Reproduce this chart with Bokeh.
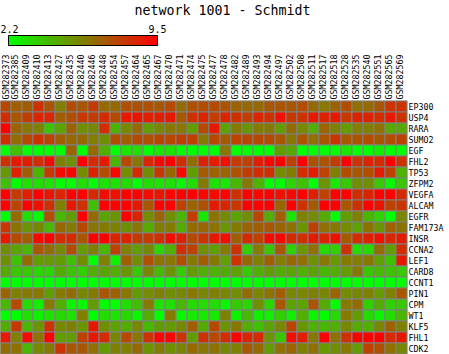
from bokeh.plotting import figure
from bokeh.models import (ColumnDataSource, LinearColorMapper, ColorBar, Range1d,
                          FixedTicker)
from bokeh.embed import file_html
from bokeh.resources import INLINE

TITLE = "network 1001 - Schmidt"
VMIN = 2.2
VMAX = 9.5

samples = ["GSM282373","GSM282385","GSM282409","GSM282410","GSM282413","GSM282427","GSM282435",
           "GSM282440","GSM282446","GSM282448","GSM282454","GSM282457","GSM282464","GSM282465",
           "GSM282467","GSM282470","GSM282471","GSM282474","GSM282475","GSM282477","GSM282478",
           "GSM282482","GSM282489","GSM282493","GSM282494","GSM282497","GSM282502","GSM282508",
           "GSM282511","GSM282517","GSM282518","GSM282528","GSM282535","GSM282540","GSM282551",
           "GSM282565","GSM282569"]
genes = ["EP300","USP4","RARA","SUMO2","EGF","FHL2","TP53","ZFPM2","VEGFA","ALCAM","EGFR","FAM173A",
         "INSR","CCNA2","LEF1","CARD8","CCNT1","PIN1","CPM","WT1","KLF5","FHL1","CDK2"]

EP300 = [7.4,6.8,6.9,8.1,7.1,5.9,7.3,7.0,7.8,6.5,6.5,7.2,7.2,7.2,7.0,7.4,6.4,7.2,7.3,7.4,7.1,6.7,6.5,6.5,7.0,7.1,7.0,7.3,6.5,6.1,6.7,7.3,6.3,6.5,7.0,8.0,8.0]
USP4 = [8.2,7.0,7.8,8.4,8.4,6.8,7.3,7.9,7.8,8.3,7.4,8.8,8.9,8.6,8.6,8.8,7.0,8.1,8.4,7.7,8.4,8.1,7.7,8.4,8.1,9.0,7.9,8.1,8.8,8.5,8.8,7.9,8.5,8.5,8.2,8.8,8.1]
RARA = [9.5,6.6,6.1,5.8,3.9,4.8,6.7,5.4,5.6,8.2,4.4,5.6,6.5,5.1,5.6,6.1,6.1,5.0,7.4,8.8,4.8,6.0,5.2,6.0,6.0,5.1,6.4,5.6,4.5,6.6,5.8,5.1,5.8,5.8,6.3,4.7,4.7]
SUMO2 = [8.2,6.4,7.5,8.1,7.6,6.8,6.5,6.5,5.9,5.4,7.3,6.8,7.4,7.2,7.5,7.5,7.7,7.7,6.1,7.4,6.9,7.6,7.5,7.4,7.4,7.0,6.1,7.1,6.3,7.1,8.0,7.0,7.1,7.3,7.0,7.3,7.6]
EGF = [2.2,4.0,2.2,2.2,2.2,2.2,6.6,2.2,6.4,4.5,2.2,3.0,3.2,2.2,2.9,3.0,2.3,2.2,2.2,2.2,6.1,2.2,2.2,2.2,2.2,5.0,4.7,2.2,2.2,2.2,2.2,3.0,2.2,2.2,2.7,2.2,2.2]
FHL2 = [8.1,8.8,8.7,8.2,9.1,5.8,5.4,9.5,8.3,8.8,4.3,7.4,6.1,8.4,9.2,9.5,8.2,6.4,8.5,8.7,9.0,7.8,7.6,8.6,9.3,9.5,7.7,9.5,7.1,7.1,7.8,9.5,8.0,8.5,8.3,9.4,8.0]
TP53 = [5.1,8.5,6.8,4.3,7.9,9.2,9.3,5.5,8.5,7.3,9.3,5.5,8.2,5.4,7.9,6.5,9.2,5.0,6.9,6.7,6.6,7.2,7.8,8.2,8.1,5.5,6.0,8.2,8.7,7.6,5.8,7.3,7.0,7.3,8.7,7.6,4.4]
ZFPM2 = [4.0,2.2,3.1,3.2,3.0,2.3,2.2,3.2,2.2,3.0,3.0,3.3,2.2,3.2,3.0,3.1,2.5,3.2,6.0,3.0,2.9,4.3,6.0,4.4,2.2,2.2,3.4,4.0,2.2,5.3,2.8,3.8,5.4,5.4,3.8,2.4,3.8]
VEGFA = [9.5,7.8,8.6,9.5,8.9,8.4,9.5,9.5,8.3,9.1,9.0,9.5,9.5,9.1,8.9,9.4,9.4,9.5,9.3,9.2,9.4,8.1,9.5,9.3,9.5,9.0,9.2,9.5,8.6,7.6,9.5,9.4,8.2,8.5,9.5,9.5,8.3]
ALCAM = [9.5,7.5,9.5,9.0,8.1,5.8,8.8,8.1,4.0,9.5,9.5,9.5,8.8,7.0,9.5,9.5,7.6,6.6,7.2,8.7,8.4,7.9,9.5,9.5,9.5,6.6,9.5,8.1,6.9,9.5,9.5,7.0,8.1,9.5,8.9,7.6,8.0]
EGFR = [2.2,6.4,3.1,2.2,7.2,4.3,5.0,9.5,6.5,4.8,5.3,9.5,8.5,5.5,6.6,5.4,4.3,7.7,2.9,6.2,5.5,4.8,5.4,7.5,4.5,6.8,3.0,5.8,5.5,4.6,2.2,5.0,5.8,4.3,3.4,2.2,5.6]
FAM173A = [7.9,6.2,5.3,5.6,4.2,6.5,6.0,7.4,6.1,6.0,5.8,5.4,6.1,4.6,5.9,6.0,4.6,6.4,6.6,6.2,5.2,6.0,6.6,6.8,7.0,6.6,6.2,5.2,7.6,6.3,6.1,5.5,4.9,6.2,5.2,6.7,6.2]
INSR = [8.7,7.4,6.8,9.2,9.5,8.2,8.3,7.0,9.5,9.5,8.5,8.5,7.8,7.8,8.2,9.1,8.6,7.4,8.0,8.8,9.0,6.8,8.3,7.6,9.2,9.3,8.3,8.1,8.7,8.5,9.0,6.9,8.2,8.6,9.0,8.4,8.7]
CCNA2 = [5.4,4.8,4.3,7.0,6.4,5.6,7.3,5.1,5.8,4.3,7.6,5.8,5.0,5.6,3.4,4.5,8.2,7.6,5.4,5.0,6.0,8.1,3.6,6.0,3.9,7.0,3.5,5.3,6.3,3.3,3.6,8.1,3.3,3.4,6.4,5.0,8.2]
LEF1 = [5.4,3.9,6.4,5.0,5.1,5.0,4.0,5.4,2.2,5.8,2.6,6.8,5.4,7.2,6.2,6.1,7.2,6.0,6.8,6.0,4.9,8.1,6.5,5.8,6.8,5.9,6.5,6.3,5.3,6.1,5.1,6.0,5.9,6.1,4.9,4.0,8.8]
CARD8 = [4.6,3.8,3.8,3.4,3.4,4.6,3.9,3.6,4.5,4.8,4.5,5.3,3.8,5.6,4.2,5.3,3.7,5.0,4.5,4.4,4.6,4.9,3.7,4.5,5.0,4.6,4.8,4.5,4.8,4.3,4.5,5.1,6.0,3.9,4.2,4.0,3.8]
CCNT1 = [2.2,2.2,2.2,2.2,2.2,2.2,2.2,2.2,2.2,2.2,2.2,2.2,2.2,2.2,2.2,2.2,2.2,2.2,2.2,2.2,2.2,2.2,2.2,2.3,2.2,2.2,2.2,2.2,2.2,2.2,2.2,2.2,2.2,2.2,2.2,2.2,2.2]
PIN1 = [6.6,5.8,6.0,6.1,5.0,6.0,6.4,5.6,6.0,7.0,6.7,6.1,5.0,5.5,5.8,5.4,5.6,6.1,5.6,5.8,5.7,5.4,6.4,5.6,6.2,6.8,5.6,5.7,5.8,5.6,6.6,5.5,5.6,5.8,5.1,5.8,7.0]
CPM = [4.3,7.4,3.2,2.7,6.0,4.5,2.5,2.5,5.0,2.3,2.2,3.2,4.1,6.0,3.0,3.1,4.3,3.3,3.2,3.2,2.5,3.7,3.4,5.4,3.4,7.0,4.8,4.8,7.0,4.6,2.2,6.0,6.4,3.6,4.6,3.6,3.8]
WT1 = [2.2,2.2,3.1,2.6,3.0,3.3,3.0,5.9,2.3,3.2,3.0,3.4,2.5,4.6,2.2,6.0,2.4,2.8,2.8,2.9,5.8,2.6,4.2,2.7,2.7,3.6,2.7,4.5,2.5,2.3,3.3,6.0,5.0,3.2,2.5,3.2,4.3]
KLF5 = [4.6,7.9,4.3,5.3,8.0,5.6,5.8,5.2,8.8,5.4,4.8,4.6,5.6,4.2,5.0,5.1,5.6,6.8,4.6,7.4,5.3,6.1,4.5,4.0,4.8,5.6,7.5,5.2,4.4,4.3,4.5,5.6,4.6,4.5,5.6,6.7,5.8]
FHL1 = [8.7,5.8,9.2,6.2,9.5,5.0,5.0,7.6,8.8,8.2,5.6,7.4,6.1,8.1,9.4,9.5,8.0,5.0,8.1,7.4,8.2,9.5,8.4,8.3,5.3,3.9,9.1,8.6,6.1,9.5,6.3,8.1,9.5,9.5,9.5,8.3,8.8]
CDK2 = [6.4,6.3,4.3,5.6,6.0,8.1,7.0,7.0,6.3,5.0,5.8,5.8,6.5,5.2,6.0,5.4,5.7,6.5,6.1,6.2,5.6,5.8,7.0,6.5,5.0,6.3,6.6,5.8,6.3,5.1,5.4,6.1,5.0,7.6,7.2,6.3,5.6]

rows = [EP300,USP4,RARA,SUMO2,EGF,FHL2,TP53,ZFPM2,VEGFA,ALCAM,EGFR,FAM173A,INSR,CCNA2,LEF1,CARD8,
        CCNT1,PIN1,CPM,WT1,KLF5,FHL1,CDK2]

PITCH = 11.0
SHIFT = 0.5 / PITCH
palette = ["#%02x%02x00" % (i, 255 - i) for i in range(256)]
mapper = LinearColorMapper(palette=palette, low=VMIN, high=VMAX)

left, right, top, bottom, vals = [], [], [], [], []
for r, row in enumerate(rows):
    for c, v in enumerate(row):
        left.append(c); right.append(c + 1)
        top.append(r); bottom.append(r + 1)
        vals.append(v)
src = ColumnDataSource(dict(left=left, right=right, top=top, bottom=bottom, v=vals))

n_c, n_r = len(samples), len(genes)
p = figure(frame_width=407, frame_height=254,
           x_range=Range1d(SHIFT, n_c + SHIFT), y_range=Range1d(n_r + SHIFT, -SHIFT),
           x_axis_location="above", y_axis_location="right",
           output_backend="svg", toolbar_location=None, tools="",
           min_border_left=0, min_border_right=42, min_border_top=100, min_border_bottom=0)
p.grid.visible = False
p.outline_line_color = None
p.background_fill_color = "#808080"
p.quad(left="left", right="right", top="top", bottom="bottom", source=src,
       fill_color={"field": "v", "transform": mapper}, line_color="#808080", line_width=1)

xt = [c + 0.4 for c in range(n_c)]
yt = [r + 0.55 for r in range(n_r)]
p.xaxis.ticker = FixedTicker(ticks=xt)
p.yaxis.ticker = FixedTicker(ticks=yt)
p.xaxis.major_label_overrides = dict(zip(xt, samples))
p.yaxis.major_label_overrides = dict(zip(yt, genes))
p.xaxis.major_label_orientation = "vertical"
for ax in (p.xaxis, p.yaxis):
    ax.axis_line_color = None
    ax.major_tick_line_color = None
    ax.minor_tick_line_color = None
    ax.major_tick_in = 0
    ax.major_tick_out = 0
    ax.major_label_standoff = 1
    ax.major_label_text_font = "DejaVu Sans Mono"
    ax.major_label_text_font_size = "8.3px"
    ax.major_label_text_color = "black"

cb = ColorBar(color_mapper=mapper, orientation="horizontal", width=149, height=10,
              location=(8, 309), padding=0, margin=0, ticker=FixedTicker(ticks=[VMIN, VMAX]),
              major_tick_line_color=None, minor_tick_line_color=None, bar_line_color="black",
              major_label_text_font="DejaVu Sans Mono", major_label_text_font_size="10px",
              major_label_text_color="black", label_standoff=-21,
              background_fill_alpha=0, border_line_color=None)
p.add_layout(cb, "center")

# Title row: a transparent bar that only carries its title text above the chart frame.
title_bar = ColorBar(color_mapper=mapper, orientation="horizontal", width=176, height=1,
                     location=(134, 335), padding=0, margin=0, ticker=FixedTicker(ticks=[]),
                     scale_alpha=0, bar_line_color=None, major_tick_line_color=None,
                     minor_tick_line_color=None, major_label_text_font_size="0px",
                     background_fill_alpha=0, border_line_color=None,
                     title=TITLE, title_standoff=2, title_text_font="DejaVu Sans Mono",
                     title_text_font_size="13.3px", title_text_font_style="normal",
                     title_text_color="black")
p.add_layout(title_bar, "center")

open("out.html", "w").write(file_html(p, INLINE))
